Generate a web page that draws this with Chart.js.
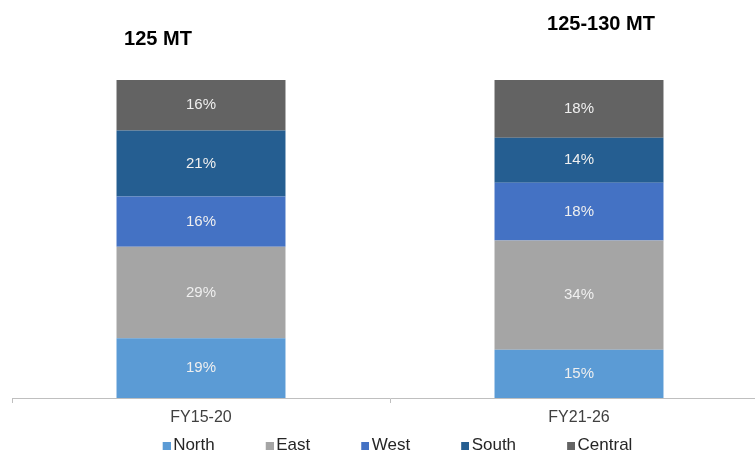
<!DOCTYPE html>
<html lang="en">
<head>
    <meta charset="UTF-8">
    <script src="https://cdn.jsdelivr.net/npm/chart.js"></script>
    <style>
        body { margin: 0; overflow: hidden; background: #fff; }
        #wrap { width: 770px; height: 464px; }
    </style>
    <title>regional share</title>
</head>
<body>
    <div id="wrap">
        <canvas id="myChart"></canvas>
    </div>
    <script>
        // categories + region shares (%), as printed on the bars
        let periods = ['FY15-20', 'FY21-26'];
        let totals = ['125 MT', '125-130 MT'];
        let regions = ['North', 'East', 'West', 'South', 'Central'];
        let north = [19, 15];
        let east = [29, 34];
        let west = [16, 18];
        let south = [21, 14];
        let central = [16, 18];
        let colors = ['#5B9BD5', '#A5A5A5', '#4472C4', '#255E91', '#636363'];

        let series = [north, east, west, south, central];

        // 100% stacked: each bar is normalised to its own sum
        let sums = periods.map((p, i) => series.reduce((s, arr) => s + arr[i], 0));

        // legend swatch: small square at the right end of a wide transparent image
        // (image is a bit wider than the legend box so the square sits close to the text)
        function swatch(color) {
            let c = document.createElement('canvas');
            c.width = 61;
            c.height = 8;
            let g = c.getContext('2d');
            g.fillStyle = color;
            g.fillRect(53, 0, 8, 8);
            return c;
        }

        let datasets = series.map((arr, k) => ({
            label: regions[k],
            data: arr.map((v, i) => v / sums[i] * 100),
            raw: arr,
            backgroundColor: colors[k],
            borderWidth: 0,
            pointStyle: swatch(colors[k]),
            barPercentage: 0.447,
            categoryPercentage: 1.0
        }));

        // percentage labels in the middle of every segment
        let segLabels = {
            id: 'segLabels',
            afterDatasetsDraw(chart) {
                let ctx = chart.ctx;
                ctx.save();
                ctx.font = '15px "Liberation Sans", Arial, sans-serif';
                ctx.fillStyle = '#EFEFEF';
                ctx.textAlign = 'center';
                ctx.textBaseline = 'middle';
                chart.data.datasets.forEach((ds, d) => {
                    chart.getDatasetMeta(d).data.forEach((el, i) => {
                        ctx.fillText(ds.raw[i] + '%', el.x, (el.y + el.base) / 2);
                    });
                });
                ctx.restore();
            }
        };

        // volume notes above the bars
        let totalNotes = {
            id: 'totalNotes',
            afterDraw(chart) {
                let ctx = chart.ctx;
                let bars = chart.getDatasetMeta(0).data;
                let offs = [[-43, 39], [22, 24]];
                ctx.save();
                ctx.font = 'bold 20px "Liberation Sans", Arial, sans-serif';
                ctx.fillStyle = '#000';
                ctx.textAlign = 'center';
                ctx.textBaseline = 'middle';
                totals.forEach((t, i) => {
                    ctx.fillText(t, bars[i].x + offs[i][0], offs[i][1]);
                });
                ctx.restore();
            }
        };

        // the legend row sits a little left of centre in the original
        let legendShift = {
            id: 'legendShift',
            afterUpdate(chart) {
                chart.legend.left -= 16;
                chart.legend.right -= 16;
            }
        };

        let ctx = document.getElementById('myChart');
        let configs = {
            type: 'bar',
            data: {
                labels: periods,
                datasets: datasets
            },
            options: {
                responsive: true,
                maintainAspectRatio: false,
                animation: false,
                layout: {
                    padding: { top: 80, left: 12, right: 2, bottom: 0 }
                },
                scales: {
                    x: {
                        stacked: true,
                        grid: {
                            drawOnChartArea: false,
                            drawTicks: true,
                            tickLength: 5,
                            color: '#BFBFBF'
                        },
                        border: { color: '#BFBFBF', width: 1 },
                        ticks: {
                            color: '#404040',
                            padding: 7,
                            font: { family: '"Liberation Sans", Arial, sans-serif', size: 16, lineHeight: 1 }
                        }
                    },
                    y: {
                        stacked: true,
                        display: false,
                        min: 0,
                        max: 100
                    }
                },
                plugins: {
                    legend: {
                        position: 'bottom',
                        labels: {
                            usePointStyle: true,
                            pointStyleWidth: 49,
                            boxHeight: 8,
                            padding: 4,
                            color: '#262626',
                            font: { family: '"Liberation Sans", Arial, sans-serif', size: 17 }
                        }
                    },
                    tooltip: { enabled: false }
                }
            },
            plugins: [segLabels, totalNotes, legendShift]
        };
        let myChart = new Chart(ctx, configs);
    </script>
</body>
</html>
